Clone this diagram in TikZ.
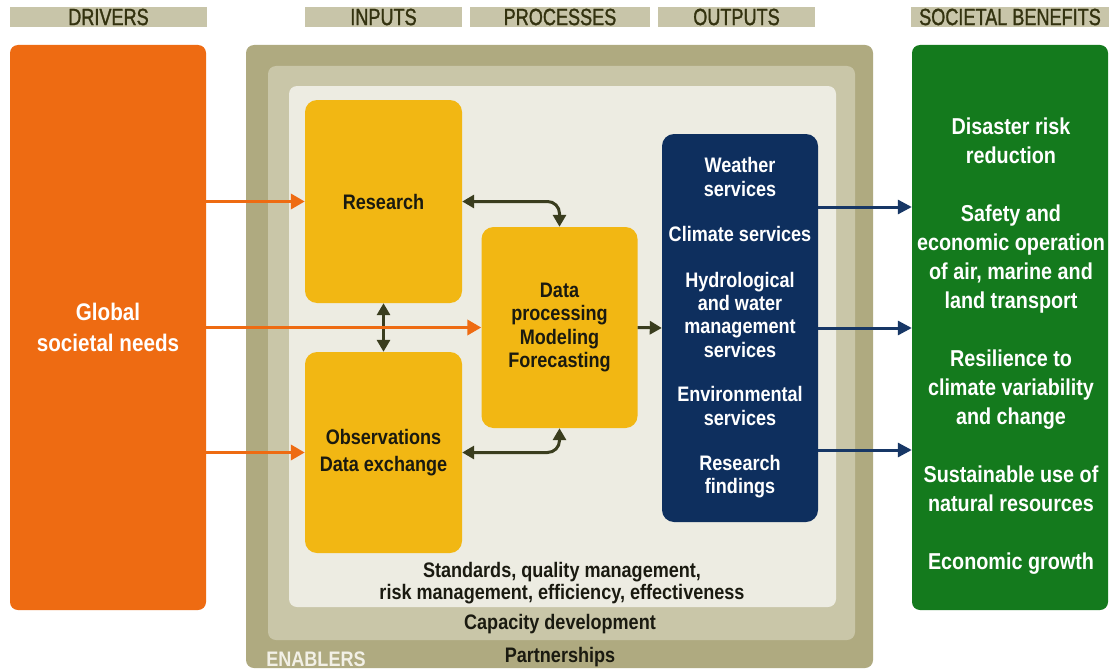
\documentclass[tikz,border=0pt]{standalone}
\usepackage{fontspec}
\setmainfont{Liberation Sans}[FakeStretch=0.86]
\newfontfamily\hdrfont{Liberation Sans}[FakeStretch=0.77,FakeBold=1.2]
\usetikzlibrary{arrows.meta}
\definecolor{headbar}{HTML}{C8C5A9}
\definecolor{headtext}{HTML}{33320F}
\definecolor{drvorange}{HTML}{EE6B12}
\definecolor{enouter}{HTML}{AFAA80}
\definecolor{enmiddle}{HTML}{C9C6A8}
\definecolor{eninner}{HTML}{EDECE2}
\definecolor{boxyellow}{HTML}{F2B713}
\definecolor{navy}{HTML}{0E2F5E}
\definecolor{bengreen}{HTML}{147A1D}
\definecolor{darkarrow}{HTML}{3A3D1E}
\definecolor{bluearrow}{HTML}{173766}
\definecolor{textdark}{HTML}{1A1A10}
\definecolor{enabtext}{HTML}{F2F0E6}
\begin{document}
\begin{tikzpicture}[x=1pt,y=-1pt,
  hbar/.style={fill=headbar, minimum height=20, inner sep=0, text=headtext,
    font=\hdrfont\fontsize{23.5}{24}\selectfont},
  layer/.style={rounded corners=8, inner sep=0},
  bigbox/.style={rounded corners=8, inner sep=0, text=white, align=center},
  ybox/.style={fill=boxyellow, rounded corners=12, inner sep=0, text=textdark, align=center,
    font=\fontsize{21}{23.3}\selectfont\bfseries},
  entext/.style={text=textdark, align=center, font=\fontsize{21}{22}\selectfont\bfseries},
  orarr/.style={draw=drvorange, line width=3.5, -{Triangle[length=14,width=15]}},
  dkarr/.style={draw=darkarrow, line width=3, {Triangle[length=12,width=13]}-{Triangle[length=12,width=13]}},
  dkone/.style={draw=darkarrow, line width=3, -{Triangle[length=12,width=13]}},
  blarr/.style={draw=bluearrow, line width=3, -{Triangle[length=14,width=14]}}
]
\useasboundingbox (0,0) rectangle (1111,669);
\fill[white] (0,0) rectangle (1111,669);

% header bars
\node[hbar, minimum width=197] (hdrivers) at (108.5,17) {DRIVERS};
\node[hbar, minimum width=157] (hinputs) at (383.5,17) {INPUTS};
\node[hbar, minimum width=180] (hproc) at (560,17) {PROCESSES};
\node[hbar, minimum width=157] (houts) at (736.5,17) {OUTPUTS};
\node[hbar, minimum width=198] (hben) at (1010,17) {SOCIETAL BENEFITS};

% enablers layers
\node[layer, fill=enouter, minimum width=627, minimum height=623] (outer) at (559.5,356.5) {};
\node[layer, fill=enmiddle, minimum width=587, minimum height=574] (middle) at (561.5,353) {};
\node[layer, fill=eninner, minimum width=547, minimum height=521] (inner) at (562.5,346.5) {};

% drivers and benefits
\node[bigbox, fill=drvorange, minimum width=196, minimum height=565,
  font=\fontsize{24}{31}\selectfont\bfseries] (drivers) at (108,327.5) {Global\\societal needs};
\node[bigbox, fill=bengreen, minimum width=196, minimum height=565] (green) at (1010,327.5) {};
\node[text=white, align=center, font=\fontsize{23}{29}\selectfont\bfseries] (bentext) at (1011,346)
  {Disaster risk\\reduction\\[29pt]Safety and\\economic operation\\of air, marine and\\land transport\\[29pt]
   Resilience to\\climate variability\\and change\\[29pt]Sustainable use of\\natural resources\\[29pt]Economic growth};

% inner boxes
\node[ybox, minimum width=157, minimum height=203] (research) at (383.5,201.5) {Research};
\node[ybox, minimum width=157, minimum height=201, font=\fontsize{21}{27}\selectfont\bfseries] (obs) at (383.5,452.5) {Observations\\Data exchange};
\node[ybox, minimum width=156, minimum height=201] (data) at (559.5,327.5) {Data\\processing\\Modeling\\Forecasting};
\node[fill=navy, rounded corners=12, inner sep=0, minimum width=156, minimum height=388, text=white,
  align=center, font=\fontsize{21}{23.4}\selectfont\bfseries] (blue) at (740,328)
  {Weather\\services\\[22pt]Climate services\\[22pt]Hydrological\\and water\\management\\services\\[21pt]
   Environmental\\services\\[22pt]Research\\findings};

% enabler texts
\node[entext] (standards) at (562,583) {Standards, quality management,\\risk management, efficiency, effectiveness};
\node[entext] (capacity) at (560,624) {Capacity development};
\node[entext] (partner) at (560,657) {Partnerships};
\node[text=enabtext, font=\fontsize{21}{22}\selectfont\bfseries] (enablers) at (316,659) {ENABLERS};

% connectors
\draw[dkarr] (research.south) -- (obs.north);
\draw[orarr] (drivers.east |- research.west) -- (research.west);
\draw[orarr] (drivers.east |- data.west) -- (data.west);
\draw[orarr] (drivers.east |- obs.west) -- (obs.west);
\draw[dkarr, rounded corners=12] (research.east) -| (data.north);
\draw[dkarr, rounded corners=12] (obs.east) -| (data.south);
\draw[dkone] (data.east) -- (blue.west);
\draw[blarr] (blue.east |- 0,207) -- (green.west |- 0,207);
\draw[blarr] (blue.east |- 0,328) -- (green.west |- 0,328);
\draw[blarr] (blue.east |- 0,450) -- (green.west |- 0,450);
\end{tikzpicture}
\end{document}
